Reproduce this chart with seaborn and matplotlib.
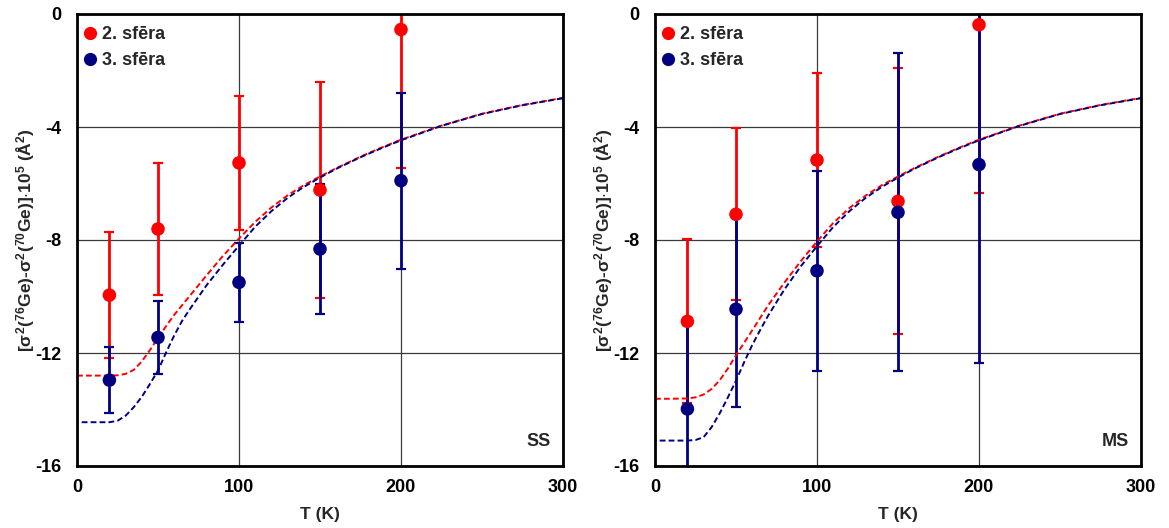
import numpy as np
import pandas as pd
import matplotlib
matplotlib.use('Agg')
import matplotlib.pyplot as plt
import seaborn as sns
from matplotlib.lines import Line2D

# ---------------- data ----------------
T_pts = [20, 50, 100, 150, 200]

ss_s2 = [-9.95, -7.61, -5.27, -6.23, -0.55]
ss_s2_err = [2.24, 2.35, 2.37, 3.84, 4.90]
ss_s3 = [-12.96, -11.45, -9.50, -8.32, -5.90]
ss_s3_err = [1.16, 1.28, 1.39, 2.29, 3.12]

ms_s2 = [-10.88, -7.09, -5.17, -6.63, -0.38]
ms_s2_err = [2.90, 3.04, 3.07, 4.71, 5.94]
ms_s3 = [-13.98, -10.45, -9.09, -7.02, -5.33]
ms_s3_err = [2.98, 3.47, 3.55, 5.63, 7.01]

T_fit = [0, 10, 20, 25, 30, 35, 40, 45, 50, 55, 60, 65, 70, 80, 90, 100, 110, 120, 130, 140,
         150, 160, 175, 187.5, 200, 225, 250, 275, 300]
ss_fit_s2 = [-12.80, -12.80, -12.80, -12.79, -12.74, -12.60, -12.30, -11.90, -11.47, -11.05,
             -10.65, -10.30, -9.95, -9.25, -8.57, -7.95, -7.36, -6.85, -6.42, -6.06,
             -5.75, -5.46, -5.05, -4.74, -4.45, -3.95, -3.53, -3.22, -2.97]
ss_fit_s3 = [-14.45, -14.45, -14.45, -14.40, -14.22, -13.92, -13.55, -13.10, -12.62, -11.98,
             -11.38, -10.85, -10.42, -9.60, -8.88, -8.20, -7.53, -6.98, -6.51, -6.12,
             -5.79, -5.48, -5.07, -4.76, -4.47, -3.96, -3.54, -3.23, -2.98]
ms_fit_s2 = [-13.62, -13.62, -13.61, -13.57, -13.47, -13.27, -12.96, -12.55, -12.08, -11.64,
             -11.20, -10.75, -10.30, -9.50, -8.75, -8.05, -7.40, -6.87, -6.43, -6.06,
             -5.75, -5.46, -5.05, -4.74, -4.45, -3.95, -3.53, -3.22, -2.97]
ms_fit_s3 = [-15.10, -15.10, -15.10, -15.08, -14.98, -14.62, -14.13, -13.57, -12.98, -12.33,
             -11.72, -11.18, -10.66, -9.74, -8.93, -8.22, -7.54, -6.98, -6.51, -6.12,
             -5.79, -5.48, -5.07, -4.76, -4.47, -3.96, -3.54, -3.23, -2.98]

series_labels = ['2. sfēra', '3. sfēra']
panel_tags = ['SS', 'MS']
x_ticks = [0, 100, 200, 300]
y_ticks = [0, -4, -8, -12, -16]

# ---------------- style ----------------
sns.set_style('white')
plt.rcParams['font.family'] = ['Liberation Sans', 'DejaVu Sans']
plt.rcParams['font.weight'] = 'bold'
plt.rcParams['axes.unicode_minus'] = False
plt.rcParams['mathtext.fontset'] = 'custom'
plt.rcParams['mathtext.rm'] = 'Liberation Sans:bold'
plt.rcParams['mathtext.it'] = 'Liberation Sans:bold'
plt.rcParams['mathtext.bf'] = 'Liberation Sans:bold'
plt.rcParams['mathtext.sf'] = 'Liberation Sans:bold'

RED = '#ff0000'
NAVY = '#000080'

fig = plt.figure(figsize=(11.69, 5.28), dpi=100)
W, H = 1169, 528
ax_l = fig.add_axes([77 / W, 62 / H, 486 / W, 452 / H])
ax_r = fig.add_axes([655 / W, 62 / H, 486 / W, 452 / H])

panels = [
    (ax_l, ss_s2, ss_s2_err, ss_s3, ss_s3_err, ss_fit_s2, ss_fit_s3, panel_tags[0]),
    (ax_r, ms_s2, ms_s2_err, ms_s3, ms_s3_err, ms_fit_s2, ms_fit_s3, panel_tags[1]),
]

ylabel = r'[$\sigma^2$($^{76}$Ge)-$\sigma^2$($^{70}$Ge)]$\cdot$10$^5$ (Å$^2$)'

for ax, s2, s2e, s3, s3e, f2, f3, tag in panels:
    ax.set_xlim(0, 300)
    ax.set_ylim(-16, 0)
    ax.set_xticks(x_ticks)
    ax.set_yticks(y_ticks)
    ax.grid(True, color='#3a3a3a', lw=0.9, zorder=0)
    ax.set_axisbelow(True)

    # error bars (red first, navy on top)
    ax.errorbar(T_pts, s2, yerr=s2e, fmt='none', ecolor=RED, elinewidth=2.0,
                capsize=3.5, capthick=1.6, zorder=2)
    ax.errorbar(T_pts, s3, yerr=s3e, fmt='none', ecolor=NAVY, elinewidth=2.0,
                capsize=3.5, capthick=1.6, zorder=2.1)

    # model curves
    df2 = pd.DataFrame({'T': T_fit, 'v': f2})
    df3 = pd.DataFrame({'T': T_fit, 'v': f3})
    sns.lineplot(data=df2, x='T', y='v', ax=ax, color=RED, lw=1.4,
                 linestyle=(0, (3.0, 1.6)), zorder=3)
    sns.lineplot(data=df3, x='T', y='v', ax=ax, color=NAVY, lw=1.4,
                 linestyle=(2.2, (3.0, 1.6)), zorder=3.1)

    # markers
    sns.scatterplot(x=T_pts, y=s2, ax=ax, color=RED, s=95, edgecolor='none', zorder=5)
    sns.scatterplot(x=T_pts, y=s3, ax=ax, color=NAVY, s=95, edgecolor='none', zorder=5.1)

    for sp in ax.spines.values():
        sp.set_visible(True)
        sp.set_color('black')
        sp.set_linewidth(2.0)
        sp.set_zorder(6)

    ax.tick_params(axis='y', direction='out', length=4, width=1, pad=7,
                   labelsize=13, colors='black')
    ax.tick_params(axis='x', direction='in', length=4, width=1, pad=9,
                   labelsize=13, colors='black')
    for lab in ax.get_xticklabels() + ax.get_yticklabels():
        lab.set_fontweight('bold')

    ax.set_xlabel('T (K)', fontsize=12.5, fontweight='bold', labelpad=8)
    ax.set_ylabel(ylabel, fontsize=12.5, fontweight='bold', labelpad=-1)

    ax.text(0.975, 0.035, tag, transform=ax.transAxes, ha='right', va='bottom',
            fontsize=13, fontweight='bold', zorder=7)

    handles = [Line2D([], [], marker='o', ls='none', color=RED, ms=9.5, mec='none'),
               Line2D([], [], marker='o', ls='none', color=NAVY, ms=9.5, mec='none')]
    leg = ax.legend(handles, series_labels, loc='upper left', frameon=False,
                    bbox_to_anchor=(-0.004, 0.987),
                    handletextpad=0.15, handlelength=1.0, borderaxespad=0.15,
                    borderpad=0.2, labelspacing=0.5, prop={'size': 13, 'weight': 'bold'})
    leg.set_zorder(8)

fig.savefig('out.png', dpi=100)
